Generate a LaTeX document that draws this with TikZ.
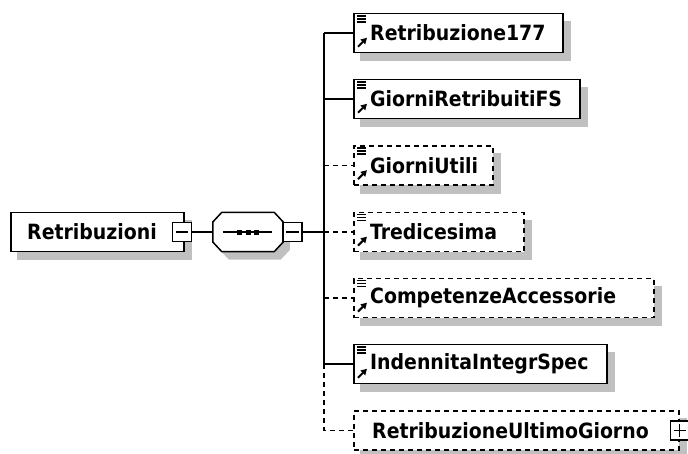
\documentclass[tikz,border=0pt]{standalone}
\usepackage{fontspec}
\setmainfont{DejaVu Sans Condensed}[BoldFont={DejaVu Sans Condensed Bold}]
\usetikzlibrary{arrows.meta}
\pgfdeclarelayer{bg}
\pgfsetlayers{bg,main}
\definecolor{shadowgray}{RGB}{192,192,192}
\tikzset{
  ln/.style={line width=1.5pt},
  optln/.style={line width=1.7pt, dash pattern=on 5pt off 4pt},
  box/.style={draw, fill=white, line width=1.5pt, rectangle, minimum height=39pt, inner sep=0pt, anchor=west},
  optbox/.style={box, line width=1.7pt, dash pattern=on 5pt off 4pt},
  lbl/.style={font=\bfseries\fontsize{21}{24}\selectfont, inner sep=0pt, anchor=west},
  pmbox/.style={draw, fill=white, line width=1.3pt, minimum size=19pt, inner sep=0pt},
  shad/.style={fill=shadowgray},
}
\newcommand{\elemicon}[1]{%
  \draw[line width=1.5pt] ([shift={(4,3)}]#1.north west) -- ++(9,0)
    ([shift={(4,6)}]#1.north west) -- ++(9,0)
    ([shift={(4,9)}]#1.north west) -- ++(9,0);
  \draw[line width=2pt, -{Triangle[length=6pt,width=6.5pt]}] ([shift={(5,34)}]#1.north west) -- ([shift={(14,25)}]#1.north west);
}
\newcommand{\boxshadow}[1]{%
  \begin{pgfonlayer}{bg}
    \fill[shad] ([shift={(7,8)}]#1.north west) rectangle ([shift={(7,8)}]#1.south east);
  \end{pgfonlayer}
}
\begin{document}
\begin{tikzpicture}[x=1pt,y=-1pt]
\useasboundingbox (0,0) rectangle (688,453);

% main element
\node[box, minimum width=173pt] (main) at (10,232) {};
\boxshadow{main}
\node[lbl] (maintxt) at ([xshift=17]main.west) {Retribuzioni};
\node[pmbox] (mainminus) at (182,232) {};
\draw[line width=1.3pt] ([xshift=4]mainminus.west) -- ([xshift=-4]mainminus.east);

% sequence compositor
\node[draw=none, minimum width=70pt, minimum height=39pt, inner sep=0pt] (seq) at (248,232) {};
\begin{pgfonlayer}{bg}
  \fill[shad] ([shift={(7,8)}]seq.west) ++(0,-10) -- ++(9,-9.5) -- ++(52,0) -- ++(9,9.5) -- ++(0,20) -- ++(-9,9.5) -- ++(-52,0) -- ++(-9,-9.5) -- cycle;
\end{pgfonlayer}
\draw[ln, fill=white] ([shift={(0,-10)}]seq.west) -- ([shift={(9,0)}]seq.north west) -- ([shift={(-9,0)}]seq.north east) -- ([shift={(0,-10)}]seq.east) -- ([shift={(0,10)}]seq.east) -- ([shift={(-9,0)}]seq.south east) -- ([shift={(9,0)}]seq.south west) -- ([shift={(0,10)}]seq.west) -- cycle;
\draw[line width=1.3pt] ([xshift=10]seq.west) -- ([xshift=-11]seq.east);
\foreach \dx in {-8.5,0,8.5} \fill ([xshift=\dx]seq.center) ++(-2.5,-2.5) rectangle ++(5,5);
\node[pmbox] (seqminus) at (292.5,232) {};
\draw[line width=1.3pt] ([xshift=4]seqminus.west) -- ([xshift=-4]seqminus.east);

\draw[ln] (mainminus.east) -- (seq.west);

% trunk junctions
\coordinate (j1) at (324,33);
\coordinate (j2) at (324,99);
\coordinate (j3) at (324,165.5);
\coordinate (j4) at (324,232);
\coordinate (j5) at (324,298);
\coordinate (j6) at (324,364);

\draw[ln] (seqminus.east) -- (j4);

% children
\node[box, minimum width=209pt] (c1) at (353,33) {};
\node[box, minimum width=226pt] (c2) at (353,99) {};
\node[optbox, minimum width=139pt] (c3) at (353,165.5) {};
\node[optbox, minimum width=170pt] (c4) at (353,232) {};
\node[optbox, minimum width=300pt] (c5) at (353,298) {};
\node[box, minimum width=253pt] (c6) at (353,364) {};
\node[optbox, minimum width=325pt] (c7) at (353,430.5) {};
\foreach \c in {c1,c2,c3,c4,c5,c6,c7} {\boxshadow{\c}}
\foreach \c in {c1,c2,c3,c4,c5,c6} {\elemicon{\c}}

\node[lbl] (t1) at ([xshift=17]c1.west) {Retribuzione177};
\node[lbl] (t2) at ([xshift=17]c2.west) {GiorniRetribuitiFS};
\node[lbl] (t3) at ([xshift=17]c3.west) {GiorniUtili};
\node[lbl] (t4) at ([xshift=17]c4.west) {Tredicesima};
\node[lbl] (t5) at ([xshift=17]c5.west) {CompetenzeAccessorie};
\node[lbl] (t6) at ([xshift=17]c6.west) {IndennitaIntegrSpec};
\node[lbl] (t7) at ([xshift=19]c7.west) {RetribuzioneUltimoGiorno};

\node[pmbox] (c7plus) at (c7.east) {};
\draw[line width=1.3pt] ([xshift=4]c7plus.west) -- ([xshift=-4]c7plus.east)
  ([shift={(0,4)}]c7plus.north) -- ([shift={(0,-4)}]c7plus.south);

% connectors
\draw[ln] (j1) -- (j6);
\draw[ln] (j1) -- (c1.west);
\draw[ln] (j2) -- (c2.west);
\draw[optln] (j3) -- (c3.west);
\draw[optln] (j4) -- (c4.west);
\draw[optln] (j5) -- (c5.west);
\draw[ln] (j6) -- (c6.west);
\draw[optln] (j6) |- (c7.west);
\end{tikzpicture}
\end{document}
